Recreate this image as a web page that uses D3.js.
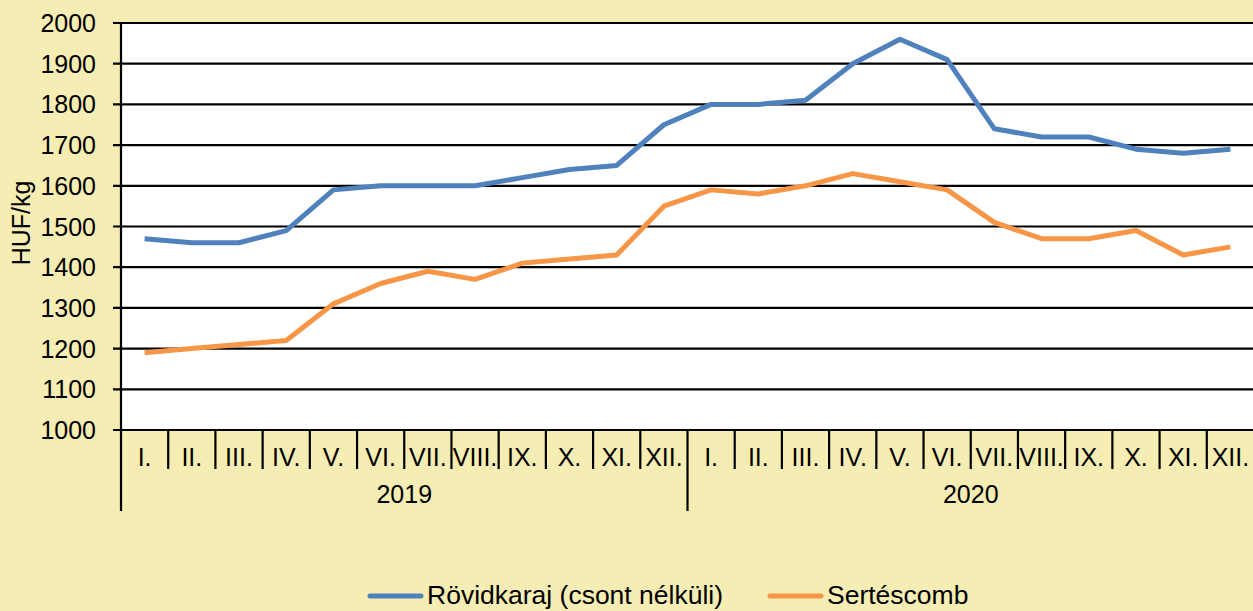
<!DOCTYPE html>
<html lang="hu">
<head>
<meta charset="utf-8">
<title>HUF/kg</title>
<script src="https://d3js.org/d3.v7.min.js"></script>
<style>
  body { margin: 0; background: #f5edb3; }
  svg { display: block; font-family: "Liberation Sans", Arial, sans-serif; }
</style>
</head>
<body>
<svg id="chart" width="1253" height="611"></svg>
<script>
// data
var years = ["2019", "2020"];
var months = ["I.", "II.", "III.", "IV.", "V.", "VI.", "VII.", "VIII.", "IX.", "X.", "XI.", "XII."];
var rovidkaraj = [1470, 1460, 1460, 1490, 1590, 1600, 1600, 1600, 1620, 1640, 1650, 1750,
                  1800, 1800, 1810, 1900, 1960, 1910, 1740, 1720, 1720, 1690, 1680, 1690];
var sertescomb = [1190, 1200, 1210, 1220, 1310, 1360, 1390, 1370, 1410, 1420, 1430, 1550,
                  1590, 1580, 1600, 1630, 1610, 1590, 1510, 1470, 1470, 1490, 1430, 1450];
var yTicks = d3.range(1000, 2001, 100);
var seriesNames = ["Rövidkaraj (csont nélküli)", "Sertéscomb"];
var colors = ["#4f81bd", "#f79646"];

var svg = d3.select("#chart");
var plotLeft = 121, plotRight = 1254, plotTop = 23, plotBottom = 430;

var cats = [];
years.forEach(function(y) { months.forEach(function(m) { cats.push(y + "-" + m); }); });

var x = d3.scaleBand().domain(cats).range([plotLeft, plotRight]);
var y = d3.scaleLinear().domain([1000, 2000]).range([plotBottom, plotTop]);

// plot area
svg.append("rect")
  .attr("x", plotLeft).attr("y", plotTop)
  .attr("width", plotRight - plotLeft).attr("height", plotBottom - plotTop)
  .attr("fill", "#fff");

// gridlines + y ticks
svg.append("g").selectAll("line")
  .data(yTicks).enter().append("line")
  .attr("x1", plotLeft - 8).attr("x2", plotRight)
  .attr("y1", d => y(d)).attr("y2", d => y(d))
  .attr("stroke", "#000").attr("stroke-width", 2.2);

svg.append("g").selectAll("text")
  .data(yTicks).enter().append("text")
  .attr("x", plotLeft - 25).attr("y", d => y(d) + 9)
  .attr("text-anchor", "end")
  .attr("font-size", 25)
  .text(d => d);

svg.append("text")
  .attr("transform", "translate(30,223) rotate(-90)")
  .attr("text-anchor", "middle")
  .attr("font-size", 25)
  .text("HUF/kg");

// y axis line, extends down through the year level
svg.append("line")
  .attr("x1", plotLeft).attr("x2", plotLeft)
  .attr("y1", plotTop).attr("y2", 511)
  .attr("stroke", "#000").attr("stroke-width", 2.2);

// month separators
svg.append("g").selectAll("line")
  .data(cats.slice(1)).enter().append("line")
  .attr("x1", d => x(d)).attr("x2", d => x(d))
  .attr("y1", plotBottom).attr("y2", d => d.endsWith("-I.") ? 511 : 469)
  .attr("stroke", "#000").attr("stroke-width", 2.2);

// month labels
svg.append("g").selectAll("text")
  .data(cats).enter().append("text")
  .attr("x", d => x(d) + x.bandwidth() / 2)
  .attr("y", 466)
  .attr("text-anchor", "middle")
  .attr("font-size", 25)
  .text(d => d.split("-")[1]);

// year labels
svg.append("g").selectAll("text")
  .data(years).enter().append("text")
  .attr("x", d => (x(d + "-I.") + x(d + "-XII.") + x.bandwidth()) / 2)
  .attr("y", 503)
  .attr("text-anchor", "middle")
  .attr("font-size", 25)
  .text(d => d);

// lines
var line = d3.line()
  .x((d, i) => x(cats[i]) + x.bandwidth() / 2)
  .y(d => y(d));

[rovidkaraj, sertescomb].forEach(function(s, i) {
  svg.append("path")
    .datum(s)
    .attr("d", line)
    .attr("fill", "none")
    .attr("stroke", colors[i])
    .attr("stroke-width", 5)
    .attr("stroke-linejoin", "round");
});

// legend
var legendX = [368, 768];
var lg = svg.append("g").selectAll("g")
  .data(seriesNames).enter().append("g")
  .attr("transform", (d, i) => "translate(" + legendX[i] + ",596)");
lg.append("line")
  .attr("x1", 2).attr("x2", 53)
  .attr("stroke", (d, i) => colors[i])
  .attr("stroke-width", 5)
  .attr("stroke-linecap", "round");
lg.append("text")
  .attr("x", 59).attr("y", 8)
  .attr("font-size", 26.5)
  .text(d => d);
</script>
</body>
</html>
